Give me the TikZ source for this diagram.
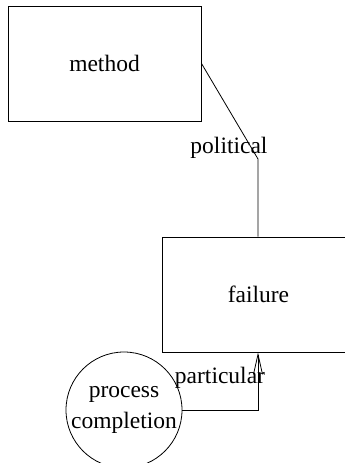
\documentclass[tikz,border=0pt]{standalone}
\usepackage{fontspec}
\setmainfont{Liberation Serif}
\usetikzlibrary{positioning, arrows.meta}

\begin{document}
\begin{tikzpicture}[x=1pt, y=-1pt, font=\fontsize{23.5}{31}\selectfont,
		caja/.style={draw, line width=1pt, minimum width=193pt, minimum height=115pt, inner sep=0pt},
		circulo/.style={draw, circle, line width=0.8pt, minimum size=116pt, inner sep=0pt, align=center},
		enlace/.style={line width=0.8pt}]
				\useasboundingbox (0,0) rectangle (345,463);
				\clip (0,0) rectangle (345,463);
				\node[caja] (method) at (104.5,63.5) {method};
				\node[caja] (failure) at (258.5,294.5) {failure};
				\node[circulo] (process) at (124,410) {process\\completion};
				\coordinate (codo) at (258,159);
				\draw[enlace] (method.east) -- (codo) -- (failure.north -| codo);
				\node (political) at (229,148) {political};
				\draw[enlace, -{Straight Barb[length=20pt, width=9pt]}] (process.east) -| (failure.south -| codo);
				\node (particular) at (220,378) {particular};
			\end{tikzpicture}
\end{document}
